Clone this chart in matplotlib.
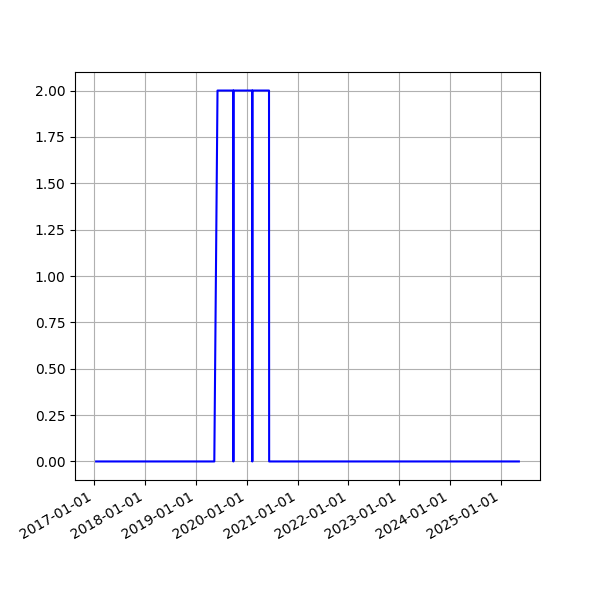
import matplotlib
matplotlib.use("Agg")
import matplotlib.pyplot as plt
import matplotlib.dates as mdates
import pandas as pd

dates = ["2017-01-15", "2019-05-14", "2019-06-06", "2019-09-27", "2019-09-28",
         "2019-09-29", "2020-02-10", "2020-02-11", "2020-02-12", "2020-06-10",
         "2020-06-11", "2025-05-10"]
values = [0, 0, 2, 2, 0, 2, 2, 0, 2, 2, 0, 0]

x = pd.to_datetime(dates)

fig, ax = plt.subplots(figsize=(6, 6), dpi=100)
ax.plot(x, values, color="b")
ax.grid(True)
ax.xaxis.set_major_locator(mdates.YearLocator())
ax.xaxis.set_major_formatter(mdates.DateFormatter("%Y-%m-%d"))
fig.autofmt_xdate()
fig.savefig("out.png")
